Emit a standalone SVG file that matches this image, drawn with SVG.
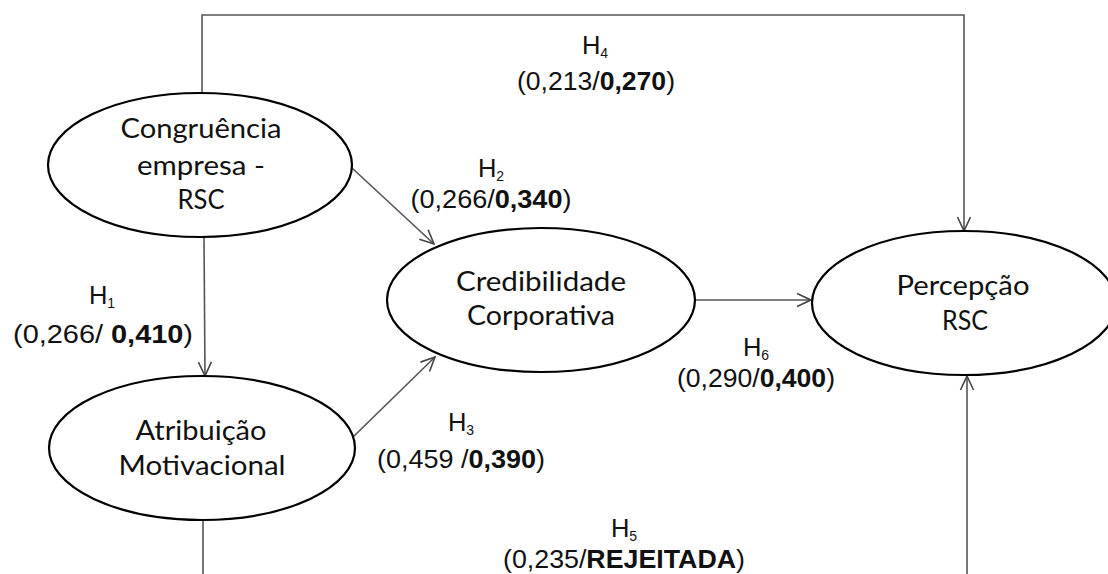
<svg xmlns="http://www.w3.org/2000/svg" width="1108" height="574" viewBox="0 0 1108 574">
<style>
.node{fill:#fff;stroke:#000;stroke-width:2.2}
.nt{font-family:Lato,"Open Sans","Noto Sans",sans-serif;font-size:26px;fill:#111;text-anchor:middle}
.lbl{font-family:"Liberation Sans",Arial,sans-serif;font-size:25.5px;fill:#111;text-anchor:middle}
.b{font-weight:bold}
.sub{font-size:14px}
.conn{fill:none;stroke:#555;stroke-width:1.6}
</style>
<defs>
<marker id="arr" markerUnits="userSpaceOnUse" markerWidth="16" markerHeight="16" viewBox="0 0 16 16" refX="15" refY="8" orient="auto">
<path d="M1,1.5 L15,8 L1,14.5" fill="none" stroke="#444" stroke-width="1.6"/>
</marker>
</defs>
<rect width="1108" height="574" fill="#fff"/>
<g id="connectors">
<polyline class="conn" points="202,93 202,15 964,15 964,231" marker-end="url(#arr)"/>
<line class="conn" x1="204" y1="237" x2="205" y2="376" marker-end="url(#arr)"/>
<line class="conn" x1="352" y1="168" x2="434" y2="244" marker-end="url(#arr)"/>
<line class="conn" x1="353" y1="437" x2="435" y2="357" marker-end="url(#arr)"/>
<line class="conn" x1="695" y1="300" x2="811" y2="300" marker-end="url(#arr)"/>
<line class="conn" x1="203" y1="520" x2="203" y2="580"/>
<line class="conn" x1="967" y1="580" x2="967" y2="376" marker-end="url(#arr)"/>
</g>
<g id="node-congruencia">
<ellipse class="node" cx="200" cy="165" rx="152" ry="72"/>
<text class="nt" x="201" y="138" textLength="161" lengthAdjust="spacingAndGlyphs">Congruência</text>
<text class="nt" x="201" y="175" textLength="128" lengthAdjust="spacingAndGlyphs">empresa -</text>
<text class="nt" x="201" y="209" textLength="47" lengthAdjust="spacingAndGlyphs">RSC</text>
</g>
<g id="node-credibilidade">
<ellipse class="node" cx="541" cy="300" rx="154" ry="72"/>
<text class="nt" x="541" y="291" textLength="170" lengthAdjust="spacingAndGlyphs">Credibilidade</text>
<text class="nt" x="541" y="325" textLength="148" lengthAdjust="spacingAndGlyphs">Corporativa</text>
</g>
<g id="node-percepcao">
<ellipse class="node" cx="964" cy="303" rx="152" ry="72"/>
<text class="nt" x="963" y="295" textLength="133" lengthAdjust="spacingAndGlyphs">Percepção</text>
<text class="nt" x="965" y="330" textLength="46" lengthAdjust="spacingAndGlyphs">RSC</text>
</g>
<g id="node-atribuicao">
<ellipse class="node" cx="202" cy="448" rx="153" ry="72"/>
<text class="nt" x="201" y="440" textLength="131" lengthAdjust="spacingAndGlyphs">Atribuição</text>
<text class="nt" x="202" y="475" textLength="167" lengthAdjust="spacingAndGlyphs">Motivacional</text>
</g>
<g id="labels">
<text class="lbl" x="595" y="54">H<tspan class="sub" dy="4">4</tspan></text>
<text class="lbl" x="596" y="90" textLength="158" lengthAdjust="spacingAndGlyphs">(0,213/<tspan class="b">0,270</tspan>)</text>
<text class="lbl" x="491" y="177">H<tspan class="sub" dy="4">2</tspan></text>
<text class="lbl" x="491" y="208" textLength="161" lengthAdjust="spacingAndGlyphs">(0,266/<tspan class="b">0,340</tspan>)</text>
<text class="lbl" x="102" y="304">H<tspan class="sub" dy="4">1</tspan></text>
<text class="lbl" x="103" y="343" textLength="180" lengthAdjust="spacingAndGlyphs">(0,266/ <tspan class="b">0,410</tspan>)</text>
<text class="lbl" x="461" y="431">H<tspan class="sub" dy="4">3</tspan></text>
<text class="lbl" x="461" y="468" textLength="168" lengthAdjust="spacingAndGlyphs">(0,459 /<tspan class="b">0,390</tspan>)</text>
<text class="lbl" x="756" y="356">H<tspan class="sub" dy="4">6</tspan></text>
<text class="lbl" x="756" y="387" textLength="158" lengthAdjust="spacingAndGlyphs">(0,290/<tspan class="b">0,400</tspan>)</text>
<text class="lbl" x="624" y="537">H<tspan class="sub" dy="4">5</tspan></text>
<text class="lbl" x="624" y="568" textLength="242" lengthAdjust="spacingAndGlyphs">(0,235/<tspan class="b">REJEITADA</tspan>)</text>
</g>
</svg>
